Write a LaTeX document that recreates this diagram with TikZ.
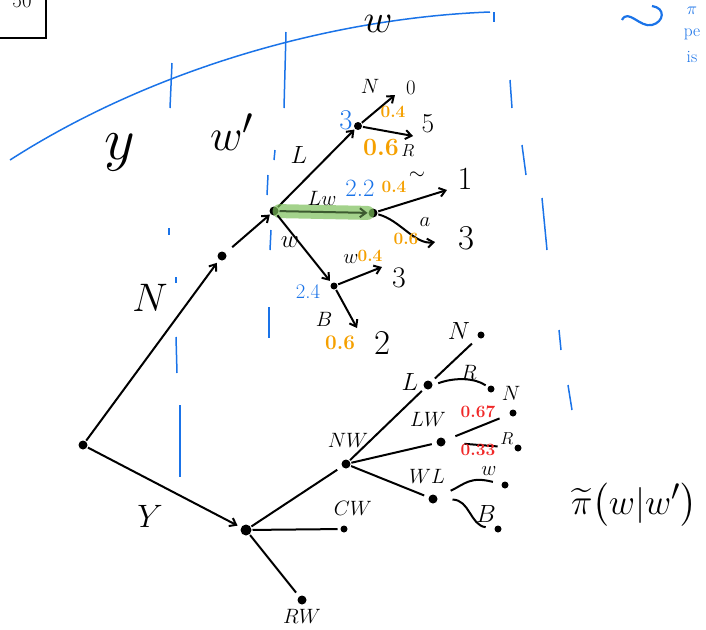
\documentclass[tikz,border=0pt]{standalone}
\usepackage{amsmath, amssymb}
\usetikzlibrary{arrows.meta, positioning, calc}
\definecolor{PenBlue}{HTML}{1A73E8}
\definecolor{PenOrange}{HTML}{F5A000}
\definecolor{PenRed}{HTML}{F02828}
\definecolor{PenGreen}{HTML}{7CBF5A}
\definecolor{DGreen}{HTML}{3C5A30}

\begin{document}
\begin{tikzpicture}[>={Straight Barb[length=6pt, width=9pt]}, x=1pt, y=-1pt, line width=2pt,
  dot/.style={circle, fill=black, inner sep=0pt, minimum size=9pt},
  leaf/.style={circle, fill=black, inner sep=0pt, minimum size=7pt},
  region/.style={PenBlue, line width=1.5pt},
  lbl/.style={inner sep=1pt, font=\Huge},
  prob/.style={inner sep=0pt, text=PenOrange, font=\LARGE\bfseries},
  val/.style={inner sep=0pt, text=PenBlue, font=\Huge}]
  \useasboundingbox (0,0) rectangle (706,629);

  % blue regions
  \draw[region] (10,160) .. controls (150,70) and (330,18) .. (490,12);
  \foreach \xa/\ya/\xb/\yb in {172/63/170/108, 286/32/284/108, 494/12/494/22,
      169/228/169/235, 176/277/176/283, 176/337/177/373, 180/405/180/477,
      268/175/267/195, 275/150/274/160, 271/230/270/250, 269/307/269/338,
      510/80/512/108, 522/145/526/175, 542/198/547/250, 559/330/561/350, 568/385/572/410} {
    \draw[region] (\xa,\ya) -- (\xb,\yb);
  }
  \draw[region, line width=2.2pt] (622,20) .. controls (628,8) and (640,28) .. (652,25)
    .. controls (664,22) and (666,8) .. (652,6);
  \node[text=PenBlue, font=\LARGE] (topPi) at (692,11) {$\pi$};
  \node[text=PenBlue, font=\LARGE] (topPe) at (692,34) {pe};
  \node[text=PenBlue, font=\LARGE] (topIs) at (692,57) {is};

  % corner box
  \draw (-5,-5) rectangle (46,38);
  \node[font=\huge] (boxTxt) at (22,1) {50};

  \node[font=\Huge, scale=2.4] (lblY) at (120,152) {$y$};
  \node[font=\Huge, scale=1.8] (lblWp) at (232,132) {$w'$};
  \node[font=\Huge, scale=1.6] (lblW) at (378,24) {$w$};

  % tree
  \node[dot] (root) at (83,445) {};
  \node[dot] (nn) at (222,256) {};
  \node[dot] (wp) at (274,211) {};
  \node[dot, minimum size=8pt] (lc) at (358,126) {};
  \node[dot] (lwc) at (373,213) {};
  \node[leaf] (wc) at (334,286) {};
  \node[dot, minimum size=11pt] (yn) at (246,530) {};
  \node[dot] (nw) at (346,464) {};
  \node[leaf] (cw) at (344,529) {};
  \node[dot] (rw) at (302,600) {};
  \node[dot] (ll) at (428,385) {};
  \node[dot] (llw) at (441,442) {};
  \node[dot] (lwl) at (433,499) {};
  \node[leaf] (llN) at (481,335) {};
  \node[leaf] (llR) at (491,389) {};
  \node[leaf] (lwN) at (513,413) {};
  \node[leaf] (lwR) at (518,448) {};
  \node[leaf] (wlN) at (505,485) {};
  \node[leaf] (wlB) at (498,529) {};

  \coordinate (lcN) at (395,95);
  \coordinate (lcR) at (413,136);
  \coordinate (lwcN) at (447,190);
  \coordinate (lwcR) at (435,242);
  \coordinate (wcW) at (382,267);
  \coordinate (wcB) at (357,328);

  \draw[->, shorten >=3pt] (root) -- (nn);
  \draw[->, shorten >=3pt] (root) -- (yn);
  \draw[->, shorten <=8pt] (nn) -- (wp);
  \draw[->] (wp) -- (lc);
  \draw[PenGreen, line width=14pt, opacity=0.7, line cap=round] (wp) -- (lwc);
  \draw[->, DGreen] (wp) -- (lwc);
  \draw[->, shorten >=2pt] (wp) -- (wc);
  \draw[->] (lc) -- (lcN);
  \draw[->] (lc) -- (lcR);
  \draw[->] (lwc) -- (lwcN);
  \draw[->] (lwc) .. controls (400,220) and (415,245) .. (lwcR);
  \draw[->] (wc) -- (wcW);
  \draw[->] (wc) -- (wcB);

  \draw[shorten >=5pt] (yn) -- (nw);
  \draw[shorten >=2pt] (yn) -- (cw);
  \draw[shorten >=4pt] (yn) -- (rw);
  \draw[shorten >=3pt] (nw) -- (ll);
  \draw[shorten >=4pt] (nw) -- (llw);
  \draw[shorten >=4pt] (nw) -- (lwl);
  \draw[shorten <=4pt, shorten >=8pt] (ll) -- (llN);
  \draw[shorten <=5pt, shorten >=2pt] (ll.east) .. controls (455,377) and (475,378) .. (llR);
  \draw[shorten <=10pt, shorten >=10pt] (llw) -- (lwN);
  \draw[shorten <=18pt, shorten >=16pt] (llw) -- (lwR);
  \draw[shorten <=14pt, shorten >=8pt] (lwl) .. controls (465,484) and (470,476) .. (wlN);
  \draw[shorten <=14pt, shorten >=8pt] (lwl) .. controls (470,500) and (470,525) .. (wlB);

  % edge labels
  \node[font=\Huge, scale=1.6] (eN) at (150,298) {$N$};
  \node[font=\Huge, scale=1.3] (eY) at (150,516) {$Y$};
  \node[lbl] (eL) at (299,155) {$L$};
  \node[lbl, font=\huge] (eLw) at (322,198) {$Lw$};
  \node[lbl] (eW) at (290,242) {$w$};

  \node[val, scale=1.15] (vLc) at (346,120) {3};
  \node[lbl, font=\huge] (tLcN) at (370,86) {$N$};
  \node[lbl, font=\huge] (tLc0) at (411,88) {0};
  \node[prob] (pLcN) at (393,112) {0.4};
  \node[lbl, font=\Huge, scale=1.1] (tLc5) at (428,124) {5};
  \node[prob, font=\Huge\bfseries] (pLcR) at (381,147) {0.6};
  \node[lbl, font=\LARGE] (tLcR) at (408,151) {$R$};

  \node[val] (vLwc) at (360,188) {2.2};
  \node[prob] (pLwN) at (394,187) {0.4};
  \node[lbl, font=\huge] (tLwN) at (417,176) {$\sim$};
  \node[font=\Huge, scale=1.3] (tLw1) at (465,179) {1};
  \node[lbl, font=\huge] (tLwR) at (425,222) {$a$};
  \node[prob] (pLwR) at (406,239) {0.6};
  \node[font=\Huge, scale=1.4] (tLw3) at (466,238) {3};

  \node[val, font=\huge] (vWc) at (308,292) {2.4};
  \node[lbl, font=\huge] (tWcW) at (351,259) {$w$};
  \node[prob] (pWcW) at (370,256) {0.4};
  \node[font=\Huge, scale=1.2] (tWc3) at (399,278) {3};
  \node[lbl, font=\huge] (tWcB) at (324,319) {$B$};
  \node[prob, font=\huge\bfseries] (pWcB) at (340,343) {0.6};
  \node[font=\Huge, scale=1.4] (tWc2) at (382,343) {2};

  \node[lbl, font=\huge] (tNW) at (348,440) {$NW$};
  \node[lbl, font=\huge] (tCW) at (353,508) {$CW$};
  \node[lbl, font=\huge] (tRW) at (302,616) {$RW$};
  \node[lbl] (tLL) at (410,382) {$L$};
  \node[lbl] (tLLN) at (459,331) {$N$};
  \node[lbl, font=\huge] (tLLR) at (469,372) {$R$};
  \node[lbl, font=\huge] (tLLW) at (428,419) {$LW$};
  \node[prob, text=PenRed] (pLWN) at (478,412) {0.67};
  \node[lbl, font=\huge] (tLWN) at (511,393) {$N$};
  \node[lbl, font=\LARGE] (tLWR) at (507,439) {$R$};
  \node[prob, text=PenRed] (pLWR) at (478,450) {0.33};
  \node[lbl, font=\huge] (tWL) at (427,476) {$WL$};
  \node[lbl, font=\huge] (tWLN) at (489,471) {$w$};
  \node[lbl] (tWLB) at (486,514) {$B$};

  \node[font=\Huge, scale=1.45] (piTxt) at (634,505) {$\widetilde{\pi}\big(w|w'\big)$};
\end{tikzpicture}
\end{document}
